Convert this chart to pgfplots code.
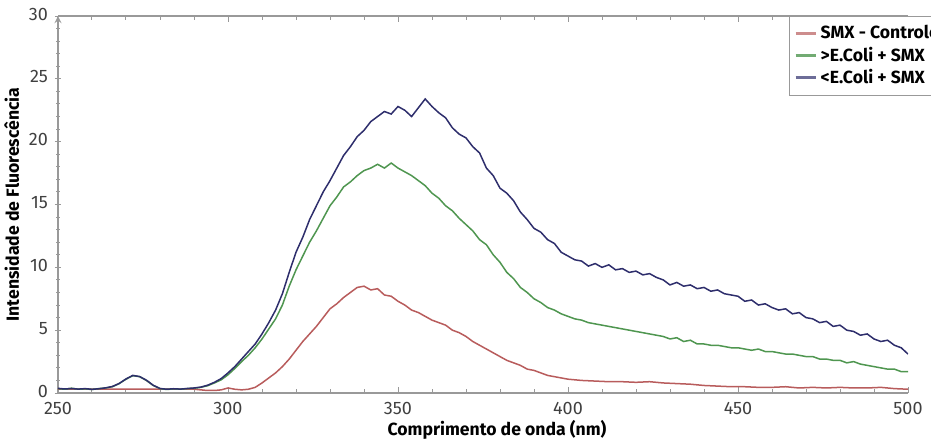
\documentclass[border=0pt]{standalone}
\usepackage{fontspec}
\setmainfont{Fira Sans}
\usepackage{pgfplots}
\pgfplotsset{compat=1.18}
\definecolor{cRed}{HTML}{B85C5C}
\definecolor{cGreen}{HTML}{4F9650}
\definecolor{cBlue}{HTML}{2E2E6C}

\begin{document}
\begin{tikzpicture}
\path[use as bounding box] (-29pt,-24pt) rectangle (436.5pt,196.5pt);
\begin{axis}[
  scale only axis,
  width=425pt, height=188.5pt,
  xmin=250, xmax=500, ymin=0, ymax=30,
  axis x line=box, axis y line=left,
  axis line style={gray!80, line width=0.6pt},
  xtick distance=50, ytick distance=5,
  minor x tick num=4, minor y tick num=4,
  tick style={gray!80, line width=0.5pt},
  major tick length=3pt, minor tick length=1.8pt,
  tick label style={font=\fontsize{9}{11}\selectfont, text=black!75},
  x tick label style={yshift=-1pt},
  y tick label style={yshift=1pt},
  /pgf/number format/assume math mode=true,
  /pgf/number format/set thousands separator={},
  xlabel={\bfseries Comprimento de onda (nm)},
  ylabel={\bfseries Intensidade de Fluorescência},
  label style={font=\fontsize{8.8}{10}\selectfont},
  xlabel style={yshift=4pt, xshift=7pt},
  ylabel style={yshift=-2pt},
  legend style={at={(axis cs:465,30)}, anchor=north west,
    draw=gray!80, fill=white, font=\fontsize{8.8}{10}\selectfont\bfseries,
    row sep=-1.5pt, inner sep=2.5pt},
  legend cell align=left,
  every axis plot/.append style={line width=0.75pt},
]
\addplot[cRed, legend image code/.code={\draw[cRed!70, line width=1.2pt] (0cm,0cm) -- (0.35cm,0cm);}] coordinates {
(250,0.3)(260,0.3)(270,0.3)(280,0.3)(290,0.3)(292,0.25)(294,0.2)(296,0.2)(298,0.25)(300,0.4)
(302,0.3)(304,0.25)(306,0.3)(308,0.45)(310,0.8)(312,1.2)(314,1.6)(316,2.1)(318,2.7)(320,3.4)
(322,4.1)(324,4.7)(326,5.3)(328,6.0)(330,6.7)(332,7.1)(334,7.6)(336,8.0)(338,8.4)(340,8.5)
(342,8.2)(344,8.3)(346,7.8)(348,7.7)(350,7.3)(352,7.0)(354,6.6)(356,6.4)(358,6.1)(360,5.8)
(362,5.6)(364,5.4)(366,5.0)(368,4.8)(370,4.5)(372,4.1)(374,3.8)(376,3.5)(378,3.2)(380,2.9)
(382,2.6)(384,2.4)(386,2.2)(388,1.9)(390,1.8)(392,1.6)(394,1.4)(396,1.3)(398,1.2)(400,1.1)
(404,1.0)(408,0.95)(412,0.9)(416,0.9)(420,0.85)(424,0.9)(428,0.8)(432,0.75)(436,0.7)(440,0.6)
(444,0.55)(448,0.5)(452,0.5)(456,0.45)(460,0.45)(464,0.5)(468,0.4)(472,0.45)(476,0.4)(480,0.45)
(484,0.4)(488,0.4)(492,0.45)(496,0.35)(500,0.3)};
\addlegendentry{SMX - Controle}

\addplot[cGreen, legend image code/.code={\draw[cGreen!80, line width=1.2pt] (0cm,0cm) -- (0.35cm,0cm);}] coordinates {
(250,0.35)(252,0.3)(254,0.38)(256,0.3)(258,0.33)(260,0.28)(262,0.35)(264,0.4)(266,0.5)(268,0.75)
(270,1.1)(272,1.38)(274,1.3)(276,1.0)(278,0.6)(280,0.35)(282,0.28)(284,0.33)(286,0.3)(288,0.35)
(290,0.38)(292,0.45)(294,0.58)(296,0.8)(298,1.05)(300,1.45)(302,1.95)(304,2.5)(306,3.0)(308,3.6)
(310,4.3)(312,5.1)(314,5.9)(316,7.0)(318,8.5)(320,9.8)(322,10.9)(324,12.0)(326,12.9)(328,13.9)
(330,14.9)(332,15.6)(334,16.4)(336,16.8)(338,17.3)(340,17.7)(342,17.9)(344,18.2)(346,17.9)(348,18.3)
(350,17.9)(352,17.6)(354,17.3)(356,16.9)(358,16.5)(360,15.9)(362,15.5)(364,14.9)(366,14.5)(368,13.9)
(370,13.4)(372,12.9)(374,12.2)(376,11.8)(378,11.0)(380,10.4)(382,9.6)(384,9.1)(386,8.4)(388,8.0)
(390,7.5)(392,7.2)(394,6.8)(396,6.6)(398,6.3)(400,6.1)(402,5.9)(404,5.8)(406,5.6)(408,5.5)
(410,5.4)(412,5.3)(414,5.2)(416,5.1)(418,5.0)(420,4.9)(422,4.8)(424,4.7)(426,4.6)(428,4.5)
(430,4.3)(432,4.4)(434,4.1)(436,4.2)(438,3.9)(440,3.9)(442,3.8)(444,3.8)(446,3.7)(448,3.6)
(450,3.6)(452,3.5)(454,3.4)(456,3.5)(458,3.3)(460,3.3)(462,3.2)(464,3.1)(466,3.1)(468,3.0)
(470,2.9)(472,2.9)(474,2.7)(476,2.7)(478,2.6)(480,2.6)(482,2.4)(484,2.5)(486,2.3)(488,2.2)
(490,2.1)(492,2.0)(494,1.9)(496,1.9)(498,1.7)(500,1.7)};
\addlegendentry{>E.Coli + SMX}

\addplot[cBlue, legend image code/.code={\draw[cBlue!70, line width=1.2pt] (0cm,0cm) -- (0.35cm,0cm);}] coordinates {
(250,0.37)(252,0.32)(254,0.36)(256,0.31)(258,0.35)(260,0.29)(262,0.34)(264,0.41)(266,0.52)(268,0.76)
(270,1.12)(272,1.4)(274,1.31)(276,1.02)(278,0.62)(280,0.36)(282,0.3)(284,0.34)(286,0.31)(288,0.36)
(290,0.4)(292,0.47)(294,0.62)(296,0.85)(298,1.15)(300,1.6)(302,2.1)(304,2.7)(306,3.3)(308,3.9)
(310,4.7)(312,5.6)(314,6.6)(316,7.9)(318,9.6)(320,11.2)(322,12.4)(324,13.8)(326,14.9)(328,16.0)
(330,16.9)(332,17.9)(334,18.9)(336,19.6)(338,20.4)(340,20.9)(342,21.6)(344,22.0)(346,22.4)(348,22.2)
(350,22.8)(352,22.5)(354,22.0)(356,22.7)(358,23.4)(360,22.8)(362,22.3)(364,21.9)(366,21.1)(368,20.6)
(370,20.3)(372,19.6)(374,19.1)(376,17.9)(378,17.3)(380,16.3)(382,15.9)(384,15.3)(386,14.4)(388,13.8)
(390,13.1)(392,12.8)(394,12.2)(396,11.9)(398,11.2)(400,10.9)(402,10.6)(404,10.5)(406,10.1)(408,10.3)
(410,10.0)(412,10.2)(414,9.8)(416,9.9)(418,9.6)(420,9.7)(422,9.4)(424,9.5)(426,9.2)(428,9.0)
(430,8.6)(432,8.8)(434,8.5)(436,8.6)(438,8.3)(440,8.4)(442,8.1)(444,8.2)(446,7.9)(448,7.8)
(450,7.7)(452,7.3)(454,7.4)(456,7.0)(458,7.1)(460,6.8)(462,6.6)(464,6.7)(466,6.3)(468,6.4)
(470,6.0)(472,5.9)(474,5.6)(476,5.7)(478,5.3)(480,5.4)(482,5.0)(484,4.9)(486,4.6)(488,4.7)
(490,4.3)(492,4.1)(494,4.2)(496,3.8)(498,3.6)(500,3.1)};
\addlegendentry{<E.Coli + SMX}
\end{axis}
\end{tikzpicture}
\end{document}
